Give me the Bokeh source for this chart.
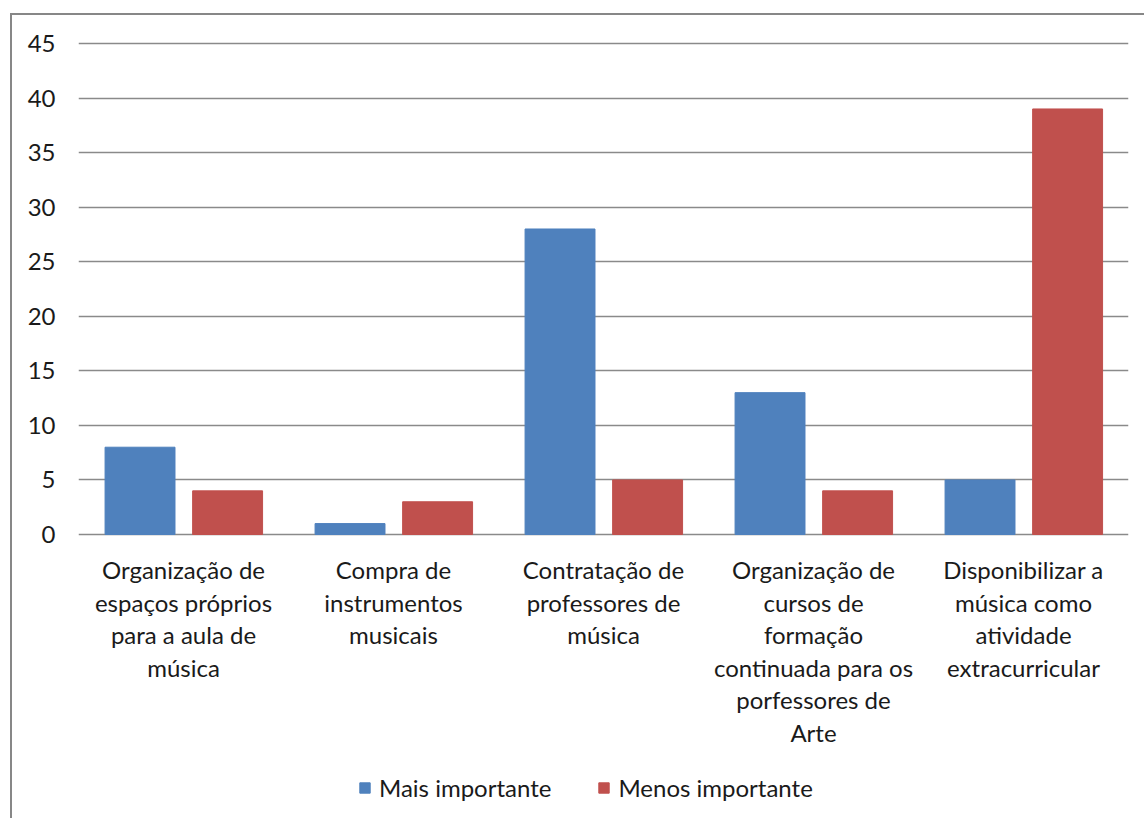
from bokeh.plotting import figure
from bokeh.models import (Range1d, FactorRange, FixedTicker, ColumnDataSource,
                          Legend, LegendItem, LabelSet)
from bokeh.core.properties import value
from bokeh.transform import dodge
from bokeh.embed import file_html
from bokeh.resources import INLINE

categories = [
    "Organização de\nespaços próprios\npara a aula de\nmúsica",
    "Compra de\ninstrumentos\nmusicais",
    "Contratação de\nprofessores de\nmúsica",
    "Organização de\ncursos de\nformação\ncontinuada para os\nporfessores de\nArte",
    "Disponibilizar a\nmúsica como\natividade\nextracurricular",
]
mais_importante = [8, 1, 28, 13, 5]
menos_importante = [4, 3, 5, 4, 39]
series_names = ["Mais importante", "Menos importante"]
y_ticks = list(range(0, 50, 5))

FONT = "Lato"
FS = "24px"
TXT = "#1a1a1a"
GRID = "#8a8a8a"

# layout in pixels
H = 805            # canvas height
TOP = 26           # space above frame
PLOT_PX = 491      # pixels from value 0 to value 45
BELOW_PX = 286     # pixels of frame below value 0 (category labels + legend)
ppu = PLOT_PX / 45.0
y_start = -BELOW_PX / ppu
y_end = 45 + (H - TOP - PLOT_PX - BELOW_PX) / ppu

src = ColumnDataSource(dict(cat=categories, mais=mais_importante, menos=menos_importante))

p = figure(
    width=1134, height=H,
    x_range=FactorRange(*categories, range_padding=0),
    y_range=Range1d(y_start, y_end),
    output_backend="svg", toolbar_location=None,
    min_border_left=66, min_border_right=18, min_border_top=TOP, min_border_bottom=0,
    margin=(13, 0, 0, 10),
    styles={"border-left": "2px solid #878787", "border-top": "2px solid #878787"},
)
p.outline_line_color = None
p.background_fill_color = "white"
p.border_fill_color = "white"

r1 = p.vbar(x=dodge("cat", -0.207, range=p.x_range), top="mais", width=0.333, source=src,
            fill_color="#4F81BD", line_color="#4F81BD")
r2 = p.vbar(x=dodge("cat", 0.21, range=p.x_range), top="menos", width=0.333, source=src,
            fill_color="#C0504D", line_color="#C0504D")

# y axis
p.yaxis.ticker = FixedTicker(ticks=y_ticks)
p.yaxis.axis_line_color = None
p.yaxis.major_tick_line_color = None
p.yaxis.minor_tick_line_color = None
p.yaxis.major_tick_out = 0
p.yaxis.major_label_standoff = 23
p.yaxis.major_label_text_font = FONT
p.yaxis.major_label_text_font_size = FS
p.yaxis.major_label_text_color = TXT

p.xaxis.visible = False
p.xgrid.grid_line_color = None
p.ygrid.grid_line_color = GRID
p.ygrid.grid_line_width = 1.5

# category labels, one row per text line, centred under each group
FIRST_PX = 35.0
PITCH_PX = 32.5
lab_x, lab_y, lab_t = [], [], []
for c in categories:
    for i, line in enumerate(c.split("\n")):
        lab_x.append(c)
        lab_y.append(-(FIRST_PX + i * PITCH_PX) / ppu)
        lab_t.append(line)
labels = LabelSet(x="x", y="y", text="t",
                  source=ColumnDataSource(dict(x=lab_x, y=lab_y, t=lab_t)),
                  text_align="center", text_baseline="middle",
                  text_font=value(FONT), text_font_size=value(FS), text_color=TXT)
p.add_layout(labels)

lg = Legend(items=[LegendItem(label=series_names[0], renderers=[r1]),
                   LegendItem(label=series_names[1], renderers=[r2])])
lg.orientation = "horizontal"
lg.location = (280, 18)
lg.border_line_color = None
lg.background_fill_alpha = 0
lg.padding = 0
lg.margin = 0
lg.spacing = 46
lg.glyph_width = 13
lg.glyph_height = 13
lg.label_standoff = 8
lg.label_text_font = FONT
lg.label_text_font_size = FS
lg.label_text_color = TXT
p.add_layout(lg, "center")

open("out.html", "w").write(file_html(p, INLINE))
